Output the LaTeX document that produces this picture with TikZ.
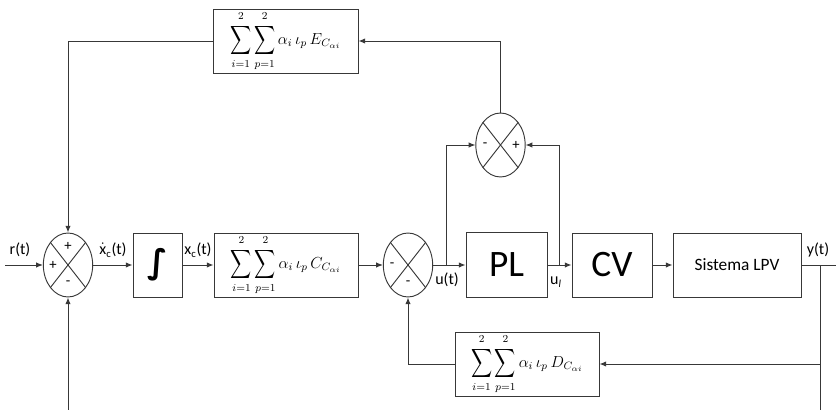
\documentclass[tikz,border=0pt]{standalone}
\usepackage{fontspec}
\setmainfont{Carlito}
\newfontfamily\djv{DejaVu Sans}
\usetikzlibrary{shapes.geometric,arrows.meta}
\newcommand\tallsum{\mathop{\vcenter{\hbox{\raisebox{0pt}[\dimexpr\height+1.5pt][\dimexpr\depth+1.5pt]{\scalebox{1.1}[1.5]{$\displaystyle\sum$}}}}}\limits}
\newcommand\gainsum[1]{$\displaystyle\tallsum_{i=1}^{2}\tallsum_{p=1}^{2}\alpha_i\,\iota_p\,#1_{C_{\alpha i}}$}
\begin{document}
\begin{tikzpicture}[x=0.75pt,y=-0.75pt,
  line/.style={draw=black!78,line width=0.7pt},
  arr/.style={line,-{Latex[length=5pt,width=4pt]}},
  blk/.style={line,rectangle,inner sep=0pt,fill=white},
  sumell/.style={line,ellipse,inner sep=0pt,minimum width=37pt,minimum height=48pt},
  sgn/.style={font=\fontsize{11}{12}\selectfont,inner sep=0pt},
  lbl/.style={font=\fontsize{12}{14}\selectfont,inner sep=0pt},
  mth/.style={font=\fontsize{12}{14}\selectfont}]
\useasboundingbox (0,0) rectangle (836,410);
% summing junctions
\node[sumell] (s1) at (68,265) {};
\node[sumell] (s2) at (408,265) {};
\node[sumell] (s3) at (500.5,145) {};
\foreach \s in {s1,s2,s3}{
  \draw[line] (\s.52) -- (\s.232);
  \draw[line] (\s.128) -- (\s.308);
}
\node[sgn] (s1t) at (68,246) {+};
\node[sgn] (s1l) at (53,265) {+};
\node[sgn] (s1b) at (68,283) {-};
\node[sgn] (s2l) at (392,265) {-};
\node[sgn] (s2b) at (408,283) {-};
\node[sgn] (s3l) at (485,145) {-};
\node[sgn] (s3r) at (516,145) {+};
% blocks
\node[blk,minimum width=108.75pt,minimum height=48pt,mth] (E) at (285.5,41) {\gainsum{E}};
\node[blk,minimum width=36.75pt,minimum height=48pt] (I) at (157.5,265)
  {\djv\bfseries\fontsize{25}{27}\selectfont ∫};
\node[blk,minimum width=108pt,minimum height=48pt,mth] (C) at (286,265) {\gainsum{C}};
\node[blk,minimum width=60.75pt,minimum height=48.5pt,font=\fontsize{28}{30}\selectfont] (PL) at (506.5,265) {PL};
\node[blk,minimum width=60pt,minimum height=48pt,font=\fontsize{28}{30}\selectfont] (CV) at (612,265) {CV};
\node[blk,minimum width=96pt,minimum height=48pt,font=\fontsize{13}{15}\selectfont] (LPV) at (737,265) {Sistema LPV};
\node[blk,minimum width=108pt,minimum height=48pt,mth] (D) at (527,364) {\gainsum{D}};
% free ends
\coordinate (rin) at (5,265);
\coordinate (bin) at (68,410);
\coordinate (yout) at (836,265);
\coordinate (ybr) at (820,265);
\coordinate (ybot) at (820,410);
\coordinate (ubr) at (446,265);
\coordinate (ulbr) at (559,265);
% connectors
\draw[arr] (rin) -- (s1.west);
\draw[arr] (bin) -- (s1.south);
\draw[arr] (E.west) -| (s1.north);
\draw[arr] (s1.east) -- (I.west);
\draw[arr] (I.east) -- (C.west);
\draw[arr] (C.east) -- (s2.west);
\draw[arr] (s2.east) -- (PL.west);
\draw[arr] (PL.east) -- (CV.west);
\draw[arr] (CV.east) -- (LPV.west);
\draw[line] (LPV.east) -- (yout);
\draw[line] (ybr) -- (ybot);
\draw[arr] (ybr |- D.east) -- (D.east);
\draw[arr] (D.west) -| (s2.south);
\draw[arr] (ubr) |- (s3.west);
\draw[arr] (ulbr) |- (s3.east);
\draw[arr] (s3.north) |- (E.east);
% labels
\node[lbl] (lr) at (20,250) {r(t)};
\node[lbl] (lxd) at (113,250) {$\dot{\hbox{x}}$\textsubscript{c}(t)};
\node[lbl] (lx) at (198,250) {x\textsubscript{c}(t)};
\node[lbl] (lu) at (447,280) {u(t)};
\node[lbl] (lul) at (556,282) {u\textsubscript{\textit{l}}};
\node[lbl] (ly) at (818,250) {y(t)};
\end{tikzpicture}
\end{document}
